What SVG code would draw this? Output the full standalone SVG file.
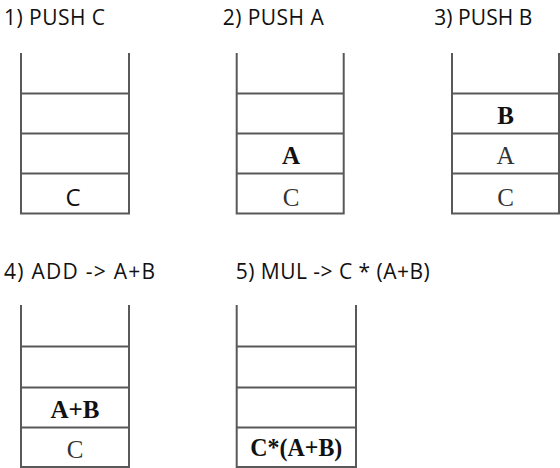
<svg xmlns="http://www.w3.org/2000/svg" width="560" height="468" viewBox="0 0 560 468">
  <style>
    .frame { fill: none; stroke: #595959; stroke-width: 2; stroke-linecap: butt; }
    .title { font-family: "Open Sans", "Noto Sans", sans-serif; font-size: 21px; fill: #111; }
    .top { font-family: "Open Sans", "Noto Sans", sans-serif; font-size: 24px; font-weight: 500; fill: #111; text-anchor: middle; }
    .val { font-family: "Liberation Serif", "DejaVu Serif", serif; font-size: 25px; fill: #333; text-anchor: middle; }
    .new { font-family: "Liberation Serif", "DejaVu Serif", serif; font-size: 25px; font-weight: bold; fill: #111; text-anchor: middle; }
  </style>

  <!-- step 1: PUSH C -->
  <g id="step1">
    <text class="title" x="4" y="25" textLength="101" lengthAdjust="spacing">1) PUSH C</text>
    <path class="frame" d="M21,53 V213.5 H129 V53 M21,93.5 H129 M21,133.5 H129 M21,173.5 H129"/>
    <text class="top" x="73" y="206">C</text>
  </g>

  <!-- step 2: PUSH A -->
  <g id="step2">
    <text class="title" x="222.7" y="25" textLength="101" lengthAdjust="spacing">2) PUSH A</text>
    <path class="frame" d="M236.7,53 V213.5 H343.7 V53 M236.7,93.5 H343.7 M236.7,133.5 H343.7 M236.7,173.5 H343.7"/>
    <text class="new" x="291" y="164">A</text>
    <text class="val" x="291" y="206">C</text>
  </g>

  <!-- step 3: PUSH B -->
  <g id="step3">
    <text class="title" x="434.3" y="25" textLength="98" lengthAdjust="spacing">3) PUSH B</text>
    <path class="frame" d="M452,53 V213.5 H559 V53 M452,93.5 H559 M452,133.5 H559 M452,173.5 H559"/>
    <text class="new" x="505.5" y="123.5">B</text>
    <text class="val" x="505.5" y="164">A</text>
    <text class="val" x="505.5" y="206">C</text>
  </g>

  <!-- step 4: ADD -->
  <g id="step4">
    <text class="title" x="4" y="279.3" textLength="151" lengthAdjust="spacing">4) ADD -&gt; A+B</text>
    <path class="frame" d="M21,305 V467 H129 V305 M21,346.5 H129 M21,387.5 H129 M21,427.5 H129"/>
    <text class="new" x="75" y="418.3">A+B</text>
    <text class="val" x="75" y="458">C</text>
  </g>

  <!-- step 5: MUL -->
  <g id="step5">
    <text class="title" x="235.7" y="279.3" textLength="194" lengthAdjust="spacing">5) MUL -&gt; C * (A+B)</text>
    <path class="frame" d="M236.7,305 V467 H356 V305 M236.7,346.5 H356 M236.7,387.5 H356 M236.7,427.5 H356"/>
    <text class="new" x="296.3" y="456" textLength="92" lengthAdjust="spacingAndGlyphs">C*(A+B)</text>
  </g>
</svg>
